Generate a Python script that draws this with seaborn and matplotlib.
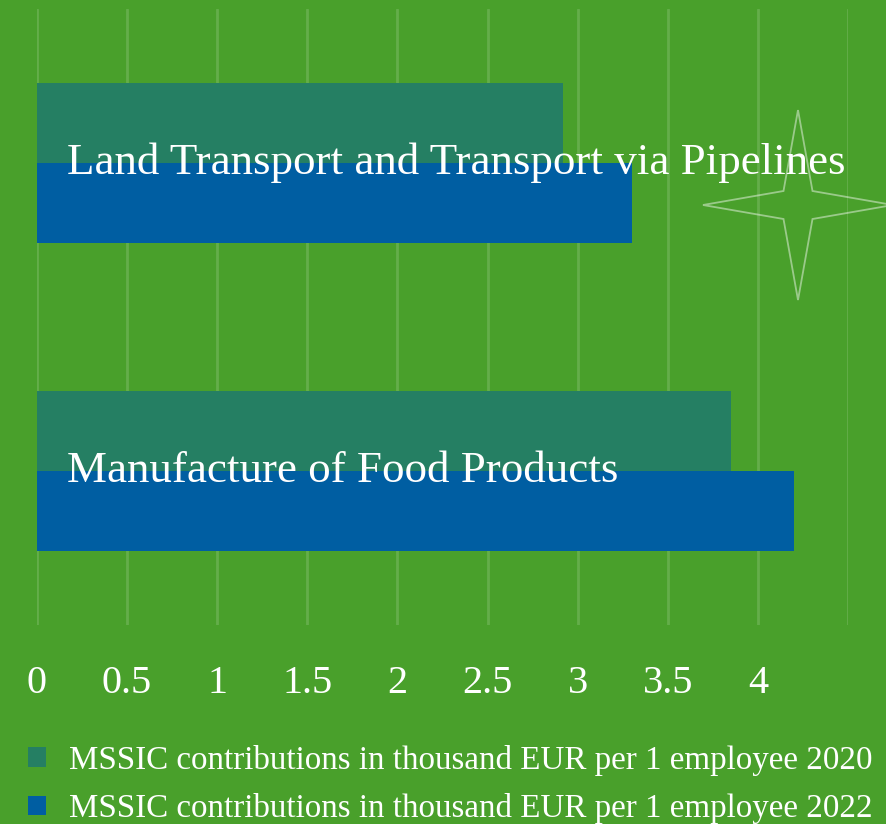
import pandas as pd
import seaborn as sns
import matplotlib.pyplot as plt
from matplotlib.patches import Polygon, Patch

# Dados
categories = ['Land Transport and Transport via Pipelines', 'Manufacture of Food Products']
series_names = ['MSSIC contributions in thousand EUR per 1 employee 2020',
                'MSSIC contributions in thousand EUR per 1 employee 2022']
values_2020 = [2.92, 3.85]
values_2022 = [3.30, 4.20]
tick_values = [0, 0.5, 1, 1.5, 2, 2.5, 3, 3.5, 4]
tick_labels = ['0', '0.5', '1', '1.5', '2', '2.5', '3', '3.5', '4']

bg = '#49a02b'
colors = ['#257f63', '#005ea2']

df = pd.DataFrame({
    'Category': categories * 2,
    'Series': [series_names[0]] * 2 + [series_names[1]] * 2,
    'Value': values_2020 + values_2022,
})

sns.set_theme(style='white')
plt.rcParams['font.family'] = ['Liberation Serif', 'DejaVu Serif']

fig = plt.figure(figsize=(8.86, 8.24), dpi=100, facecolor=bg)
ax = fig.add_axes([37 / 886, 1 - 625 / 824, (848 - 37) / 886, 616 / 824])
ax.set_facecolor(bg)

sns.barplot(data=df, y='Category', x='Value', hue='Series', hue_order=series_names,
            palette=colors, width=0.52, orient='h', ax=ax, legend=False, zorder=2,
            saturation=1, linewidth=0)

ax.set_xlim(0, 4.5)
ax.set_ylim(1.5, -0.5)
for v in [0, 0.5, 1, 1.5, 2, 2.5, 3, 3.5, 4, 4.5]:
    ax.axvline(v, color='white', alpha=0.15, lw=2, zorder=1)

ax.set_xticks(tick_values)
ax.set_xticklabels(tick_labels, color='white', fontsize=29)
ax.tick_params(axis='x', length=0, pad=29)
ax.set_yticks([])
ax.set_xlabel('')
ax.set_ylabel('')
for s in ax.spines.values():
    s.set_visible(False)

# Rótulos das categorias dentro das barras
for i, cat in enumerate(categories):
    ax.text(0.165, i, cat, color='white', fontsize=32.4, va='center', ha='left', zorder=3)

# Estrela decorativa
cx, cy = 798, 205
pts = [(cx, cy - 95), (cx + 14.5, cy - 14), (cx + 95, cy), (cx + 14.5, cy + 14),
       (cx, cy + 95), (cx - 14.5, cy + 14), (cx - 95, cy), (cx - 14.5, cy - 14)]
pts = [(x / 886, 1 - y / 824) for x, y in pts]
fig.patches.append(Polygon(pts, closed=True, fill=False, edgecolor='white', alpha=0.45,
                           lw=1.3, transform=fig.transFigure, zorder=5))

# Legenda
handles = [Patch(facecolor=c, edgecolor='none') for c in colors]
fig.legend(handles, series_names, loc='upper left', bbox_to_anchor=(28 / 886, 1 - 745 / 824),
           frameon=False, fontsize=23.8, labelcolor='white', handlelength=0.55,
           handleheight=0.55, handletextpad=0.7, labelspacing=0.52, borderaxespad=0,
           borderpad=0)

fig.savefig('out.png', dpi=100, facecolor=bg)
